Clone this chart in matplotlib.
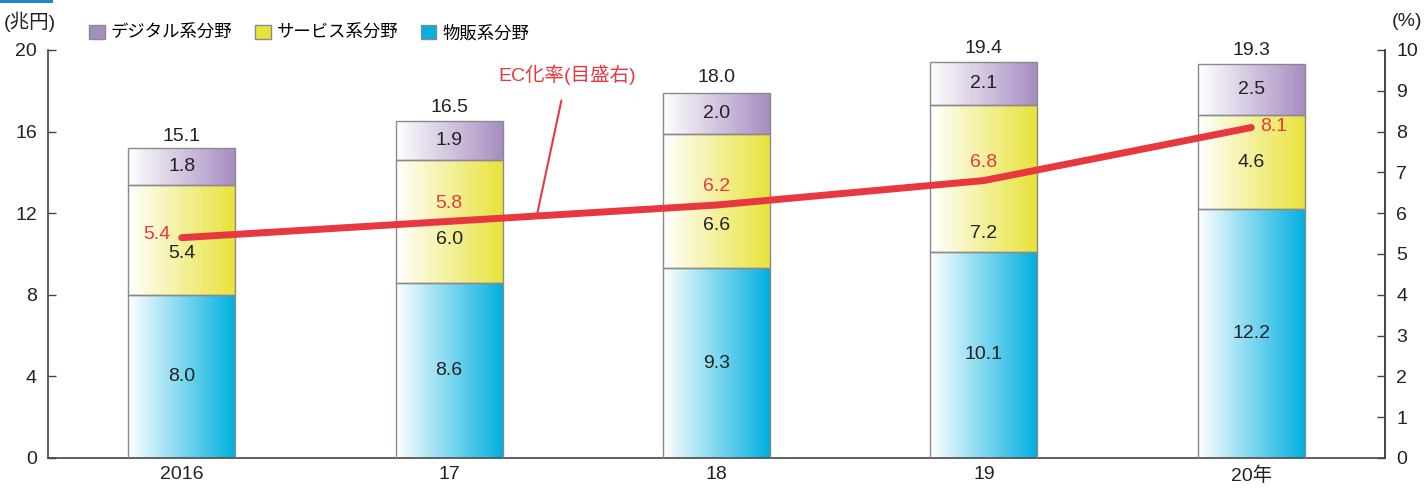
import numpy as np
import matplotlib
matplotlib.use("Agg")
import matplotlib.pyplot as plt
from matplotlib.patches import Patch, Rectangle
from matplotlib import font_manager as fm

names = {f.name for f in fm.fontManager.ttflist}
num_font = 'Liberation Sans Narrow' if 'Liberation Sans Narrow' in names else 'Liberation Sans'
plt.rcParams['font.family'] = [num_font, 'Noto Sans CJK JP', 'DejaVu Sans']

# ---- data ----
years = ['2016', '17', '18', '19', '20年']
goods = [8.0, 8.6, 9.3, 10.1, 12.2]       # 物販系分野
services = [5.4, 6.0, 6.6, 7.2, 4.6]      # サービス系分野
digital = [1.8, 1.9, 2.0, 2.1, 2.5]       # デジタル系分野
totals = [15.1, 16.5, 18.0, 19.4, 19.3]
ec_rate = [5.4, 5.8, 6.2, 6.8, 8.1]       # EC化率(%)
service_label_y = [10.0, 10.7, 11.4, 11.0, 14.5]

c_dig = '#a68dc1'
c_srv = '#e8e33a'
c_goods = '#00b0e0'
red = '#e8383f'
edge = '#8a8a8a'
axcol = '#444444'

fig = plt.figure(figsize=(14.25, 4.88), dpi=100)
ax = fig.add_axes([48/1425, 30/488, (1385-48)/1425, (458-50)/488])
x = np.arange(len(years))
w = 0.40

def grad_bar(xs, h, b, color):
    bars = ax.bar(xs, h, w, bottom=b, facecolor='none', edgecolor=edge, linewidth=1.0, zorder=3)
    rgb = np.array(matplotlib.colors.to_rgb(color))
    t = np.linspace(0, 1, 256)[:, None]
    arr = (1 - t) * np.array([1, 1, 1]) + t * rgb
    arr = arr[None, :, :]
    for bar in bars:
        x0 = bar.get_x(); y0 = bar.get_y()
        im = ax.imshow(arr, extent=[x0, x0 + bar.get_width(), y0, y0 + bar.get_height()],
                       aspect='auto', zorder=2, interpolation='bilinear')
        im.set_clip_path(bar)
    return bars

goods_a = np.array(goods); srv_a = np.array(services); dig_a = np.array(digital)
grad_bar(x, goods_a, 0, c_goods)
grad_bar(x, srv_a, goods_a, c_srv)
grad_bar(x, dig_a, goods_a + srv_a, c_dig)

ax.set_xlim(-0.5, 4.5)
ax.set_ylim(0, 20)
ax.set_yticks(range(0, 21, 4))
ax.set_xticks(x)
ax.set_xticklabels(years)
ax.tick_params(axis='x', length=0, labelsize=14, pad=6, colors='#222222')
ax.tick_params(axis='y', direction='in', length=6, width=1, labelsize=14, colors=axcol, labelcolor='#222222', pad=8)
ax.spines['top'].set_visible(False)
for s in ['left', 'bottom', 'right']:
    ax.spines[s].set_color(axcol)
    ax.spines[s].set_linewidth(1.2)

fs = 14
for i in range(len(years)):
    ax.text(x[i], goods[i] / 2, f'{goods[i]:.1f}', ha='center', va='center', fontsize=fs, color='#222222', zorder=5)
    ax.text(x[i], service_label_y[i], f'{services[i]:.1f}', ha='center', va='center', fontsize=fs, color='#222222', zorder=5)
    ax.text(x[i], goods[i] + services[i] + digital[i] / 2, f'{digital[i]:.1f}', ha='center', va='center', fontsize=fs, color='#222222', zorder=5)
    ax.text(x[i], totals[i] + 0.25, f'{totals[i]:.1f}', ha='center', va='bottom', fontsize=fs, color='#222222', zorder=5)

ax2 = ax.twinx()
ax2.set_ylim(0, 10)
ax2.set_yticks(range(0, 11))
ax2.tick_params(axis='y', direction='in', length=6, width=1, labelsize=14, colors=axcol, labelcolor='#222222', pad=8)
for s in ['top', 'left', 'bottom']:
    ax2.spines[s].set_visible(False)
ax2.spines['right'].set_color(axcol)
ax2.spines['right'].set_linewidth(1.2)
ax2.plot(x, ec_rate, color=red, linewidth=5, solid_capstyle='round', zorder=4)

# rate labels
offs = [(-18, 2), (0, 13), (0, 13), (0, 13), (16, 1)]
for i in range(len(years)):
    dx, dy = offs[i]
    ax2.annotate(f'{ec_rate[i]:.1f}', (x[i], ec_rate[i]), xytext=(dx, dy), textcoords='offset points',
                 ha='center', va='center', fontsize=fs, color=red, zorder=6)

# callout
ax2.annotate('EC化率(目盛右)', xy=(1.33, 6.0), xytext=(1.44, 9.38), ha='center', va='center',
             fontsize=14, color=red,
             arrowprops=dict(arrowstyle='-', color=red, lw=1.5, shrinkA=9, shrinkB=0))

# axis unit labels
fig.text(30/1425, 1 - 22/488, '(兆円)', ha='center', va='center', fontsize=14, color='#222222')
fig.text(1407/1425, 1 - 22/488, '(%)', ha='center', va='center', fontsize=14, color='#222222')

handles = [Patch(facecolor=c_dig, edgecolor=edge), Patch(facecolor=c_srv, edgecolor=edge),
           Patch(facecolor=c_goods, edgecolor=edge)]
fig.legend(handles, ['デジタル系分野', 'サービス系分野', '物販系分野'], loc='center left',
           bbox_to_anchor=(89/1425, 1 - 33/488), ncol=3, frameon=False, fontsize=12.5,
           handlelength=0.9, handleheight=0.9, handletextpad=0.35, columnspacing=1.3,
           borderaxespad=0, borderpad=0)

fig.patches.append(Rectangle((0, 1 - 3/488), 53/1425, 3/488, transform=fig.transFigure,
                             facecolor='#1e88c8', edgecolor='none'))

fig.savefig('out.png', dpi=100)
